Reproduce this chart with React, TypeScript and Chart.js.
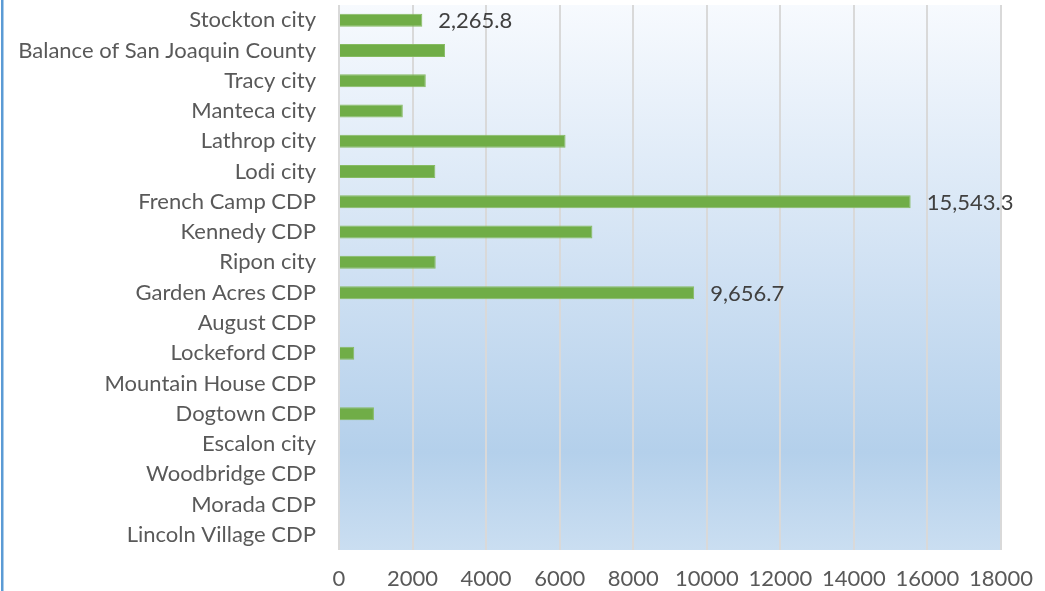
import React, { useEffect, useRef } from "react";
import { Chart, registerables } from "chart.js";

Chart.register(...registerables);

const categories = [
  "Stockton city",
  "Balance of San Joaquin County",
  "Tracy city",
  "Manteca city",
  "Lathrop city",
  "Lodi city",
  "French Camp CDP",
  "Kennedy CDP",
  "Ripon city",
  "Garden Acres CDP",
  "August CDP",
  "Lockeford CDP",
  "Mountain House CDP",
  "Dogtown CDP",
  "Escalon city",
  "Woodbridge CDP",
  "Morada CDP",
  "Lincoln Village CDP",
];

const values = [
  2265.8, 2885, 2360, 1735, 6160, 2620, 15543.3, 6890, 2630, 9656.7, 0, 415, 0, 950, 0, 0, 0, 0,
];

const labelledCategories = ["Stockton city", "French Camp CDP", "Garden Acres CDP"];

const xTicks = [0, 2000, 4000, 6000, 8000, 10000, 12000, 14000, 16000, 18000];

const FONT = "Lato, 'Open Sans', sans-serif";

export default function App() {
  const ref = useRef<HTMLCanvasElement | null>(null);

  useEffect(() => {
    if (!ref.current) return;

    const bgPlugin = {
      id: "bg",
      beforeDraw(chart: any) {
        const { ctx, chartArea } = chart;
        ctx.save();
        ctx.fillStyle = "#ffffff";
        ctx.fillRect(0, 0, chart.width, chart.height);
        const g = ctx.createLinearGradient(0, chartArea.top, 0, chartArea.bottom);
        g.addColorStop(0, "#f7fafe");
        g.addColorStop(0.45, "#d3e3f4");
        g.addColorStop(0.82, "#b4d0eb");
        g.addColorStop(1, "#cadef1");
        ctx.fillStyle = g;
        ctx.fillRect(chartArea.left, chartArea.top, chartArea.right - chartArea.left, chartArea.bottom - chartArea.top);
        ctx.fillStyle = "#5b9bd5";
        ctx.fillRect(1, 0, 2.5, chart.height);
        ctx.restore();
      },
    };

    const labelPlugin = {
      id: "vlabels",
      afterDatasetsDraw(chart: any) {
        const { ctx } = chart;
        const meta = chart.getDatasetMeta(0);
        ctx.save();
        ctx.font = `22px ${FONT}`;
        ctx.fillStyle = "#404040";
        ctx.textAlign = "left";
        ctx.textBaseline = "middle";
        categories.forEach((c, i) => {
          if (!labelledCategories.includes(c)) return;
          const bar = meta.data[i];
          const txt = values[i].toLocaleString("en-US", { minimumFractionDigits: 1, maximumFractionDigits: 1 });
          ctx.fillText(txt, bar.x + 16, bar.y + 1);
        });
        ctx.restore();
      },
    };

    const chart = new Chart(ref.current, {
      type: "bar",
      data: {
        labels: categories,
        datasets: [
          {
            data: values,
            backgroundColor: "#70ad47",
            borderColor: "#86bb62",
            borderWidth: 1,
            borderSkipped: "start",
            barPercentage: 0.43,
            categoryPercentage: 1,
          },
        ],
      },
      options: {
        indexAxis: "y",
        responsive: false,
        animation: false,
        layout: { padding: { top: 5, right: 44, left: 0, bottom: 0 } },
        plugins: { legend: { display: false }, tooltip: { enabled: false } },
        scales: {
          x: {
            min: 0,
            max: 18000,
            afterBuildTicks(scale: any) {
              scale.ticks = xTicks.map((v) => ({ value: v }));
            },
            afterFit(scale: any) {
              scale.height = 41;
              scale.paddingLeft = 0;
              scale.paddingRight = 0;
            },
            grid: { color: "#d9d9d9", lineWidth: 2, drawTicks: false },
            border: { display: false },
            ticks: {
              color: "#595959",
              font: { family: FONT, size: 22 },
              padding: 16,
              maxRotation: 0,
              autoSkip: false,
              callback: (v: any) => String(v),
            },
          },
          y: {
            afterFit(scale: any) {
              scale.width = 339;
              scale.paddingTop = 0;
              scale.paddingBottom = 0;
            },
            grid: { display: false, drawTicks: false },
            border: { display: false },
            ticks: {
              color: "#595959",
              font: { family: FONT, size: 22 },
              padding: 23,
              autoSkip: false,
            },
          },
        },
      },
      plugins: [bgPlugin, labelPlugin],
    });

    return () => chart.destroy();
  }, []);

  return (
    <div style={{ position: "absolute", left: 0, top: 0, width: 1045, height: 591 }}>
      <canvas ref={ref} width={1045} height={591} />
    </div>
  );
}
